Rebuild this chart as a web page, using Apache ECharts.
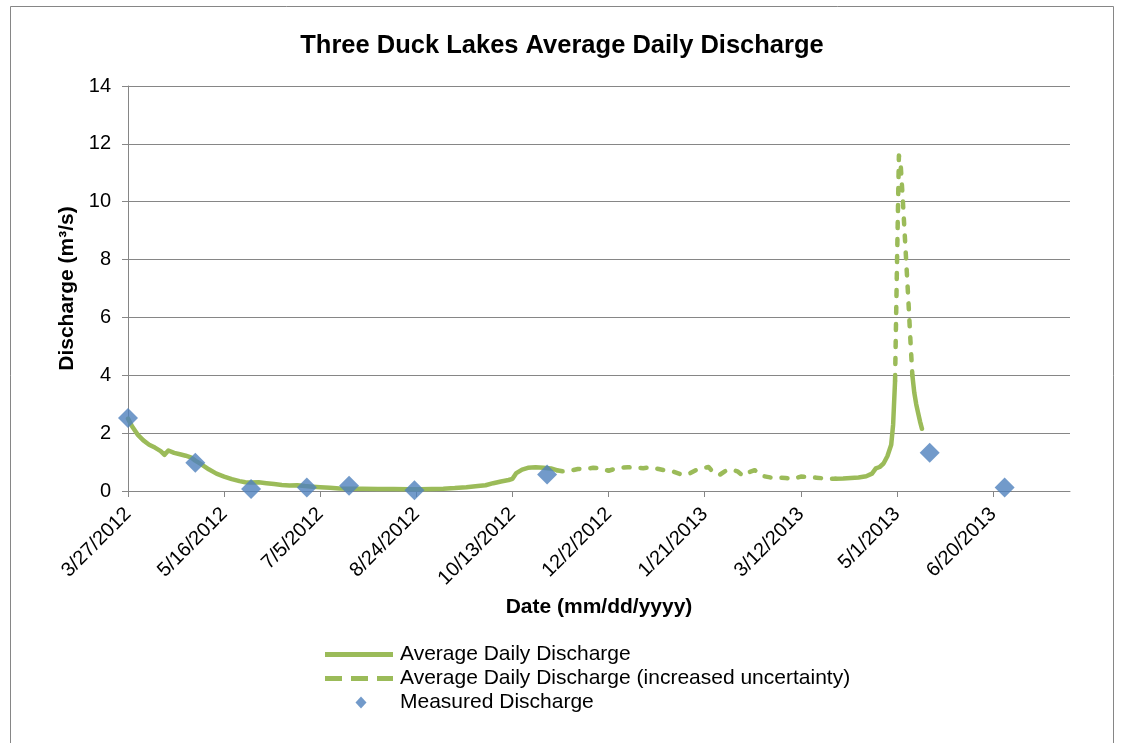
<!DOCTYPE html>
<html>
<head>
<meta charset="utf-8">
<script src="https://cdn.jsdelivr.net/npm/echarts@6/dist/echarts.min.js"></script>
<style>
html, body { margin: 0; padding: 0; background: #fff; }
#chart { width: 1124px; height: 743px; }
</style>
</head>
<body>
<div id="chart"></div>
<script>
// average daily discharge
var lineDates = [
    '3/27/2012', '3/29/2012', '4/1/2012', '4/4/2012', '4/7/2012', '4/10/2012', '4/13/2012', '4/15/2012',
    '4/17/2012', '4/20/2012', '4/23/2012', '4/26/2012', '4/29/2012', '5/1/2012', '5/4/2012', '5/8/2012',
    '5/12/2012', '5/16/2012', '5/20/2012', '5/24/2012', '5/27/2012', '5/30/2012', '6/3/2012', '6/7/2012',
    '6/11/2012', '6/15/2012', '6/19/2012', '6/23/2012', '6/27/2012', '7/1/2012', '7/5/2012', '7/10/2012',
    '7/15/2012', '7/21/2012', '7/27/2012', '8/4/2012', '8/12/2012', '8/20/2012', '8/26/2012', '9/1/2012',
    '9/7/2012', '9/13/2012', '9/19/2012', '9/25/2012', '9/29/2012', '10/3/2012', '10/7/2012', '10/11/2012',
    '10/13/2012', '10/15/2012', '10/18/2012', '10/21/2012', '10/25/2012', '10/29/2012', '11/2/2012', '11/5/2012',
    '11/8/2012', '11/12/2012', '11/16/2012', '11/20/2012', '11/24/2012', '11/28/2012', '12/2/2012', '12/5/2012',
    '12/8/2012', '12/12/2012', '12/16/2012', '12/20/2012', '12/24/2012', '12/28/2012', '1/1/2013', '1/5/2013',
    '1/9/2013', '1/13/2013', '1/17/2013', '1/21/2013', '1/23/2013', '1/26/2013', '1/29/2013', '2/1/2013',
    '2/4/2013', '2/7/2013', '2/10/2013', '2/13/2013', '2/16/2013', '2/20/2013', '2/24/2013', '2/28/2013',
    '3/4/2013', '3/8/2013', '3/12/2013', '3/16/2013', '3/20/2013', '3/25/2013', '3/30/2013', '4/3/2013',
    '4/7/2013', '4/11/2013', '4/15/2013', '4/18/2013', '4/20/2013', '4/22/2013', '4/24/2013', '4/26/2013',
    '4/28/2013', '4/29/2013', '4/30/2013', '5/1/2013', '5/2/2013', '5/3/2013', '5/4/2013', '5/5/2013',
    '5/6/2013', '5/7/2013', '5/8/2013', '5/9/2013', '5/10/2013', '5/11/2013', '5/12/2013', '5/13/2013',
    '5/14/2013'
];
var lineValues = [
    2.5, 2.25, 1.95, 1.75, 1.6, 1.5, 1.38, 1.25,
    1.4, 1.32, 1.27, 1.22, 1.15, 1.05, 0.93, 0.75,
    0.6, 0.5, 0.41, 0.34, 0.3, 0.29, 0.3, 0.27,
    0.24, 0.21, 0.19, 0.2, 0.17, 0.15, 0.13, 0.11,
    0.09, 0.08, 0.08, 0.07, 0.07, 0.06, 0.06, 0.07,
    0.08, 0.1, 0.13, 0.17, 0.2, 0.27, 0.33, 0.38,
    0.42, 0.62, 0.74, 0.8, 0.82, 0.8, 0.78, 0.72,
    0.68, 0.7, 0.76, 0.77, 0.8, 0.78, 0.7, 0.76,
    0.8, 0.82, 0.81, 0.79, 0.82, 0.76, 0.7, 0.66,
    0.57, 0.6, 0.74, 0.8, 0.83, 0.6, 0.57, 0.7,
    0.74, 0.68, 0.52, 0.65, 0.72, 0.52, 0.47, 0.46,
    0.45, 0.42, 0.5, 0.48, 0.46, 0.43, 0.42, 0.43,
    0.45, 0.47, 0.51, 0.6, 0.78, 0.83, 0.95, 1.2,
    1.6, 2.3, 3.8, 7.8, 11.6, 11.2, 10.1, 8.9,
    7.7, 6.5, 5.2, 4.0, 3.4, 3.0, 2.7, 2.4,
    2.15
];
// spans drawn dashed (increased uncertainty)
var uncertainPeriods = [['11/5/2012', '3/30/2013'], ['4/30/2013', '5/9/2013']];

var measuredDates = ['3/27/2012', '5/1/2012', '5/30/2012', '6/28/2012', '7/20/2012', '8/23/2012', '10/31/2012', '5/18/2013', '6/26/2013'];
var measuredValues = [2.52, 0.98, 0.07, 0.12, 0.18, 0.03, 0.57, 1.32, 0.12];

var tickDates = ['3/27/2012', '5/16/2012', '7/5/2012', '8/24/2012', '10/13/2012', '12/2/2012', '1/21/2013', '3/12/2013', '5/1/2013', '6/20/2013'];
var axisEndDate = '7/30/2013';

function toTime(s) {
    var p = s.split('/');
    return Date.UTC(+p[2], +p[0] - 1, +p[1]);
}
var t0 = toTime(tickDates[0]);
function dayOf(s) {
    return Math.round((toTime(s) - t0) / 86400000);
}

var tickDays = tickDates.map(dayOf);
var periods = uncertainPeriods.map(function(p) { return [dayOf(p[0]), dayOf(p[1])]; });

// split the line into solid and dashed pieces, sharing the boundary points
var solidData = [];
var dashedData = [];
lineDates.forEach(function(d, i) {
    var x = dayOf(d);
    var inside = false, onEdge = false;
    periods.forEach(function(p) {
        if (x > p[0] && x < p[1]) inside = true;
        if (x === p[0] || x === p[1]) onEdge = true;
    });
    solidData.push([x, inside ? null : lineValues[i]]);
    dashedData.push([x, (inside || onEdge) ? lineValues[i] : null]);
});
var measuredData = measuredDates.map(function(d, i) { return [dayOf(d), measuredValues[i]]; });

var font = 'Liberation Sans, Arial, sans-serif';
var grey = '#868686';
var green = '#9bbb59';
var blue = '#4f81bd';

// legend icons (the leading moves fix the box to 72x12 so nothing is stretched)
var iconSolid = 'path://M0,0 M72,12 M2,3.5 L70,3.5 L70,8.5 L2,8.5 Z';
var iconDashed = 'path://M0,0 M72,12 M2,3.5 L19,3.5 L19,8.5 L2,8.5 Z M28,3.5 L45,3.5 L45,8.5 L28,8.5 Z M54,3.5 L70,3.5 L70,8.5 L54,8.5 Z';
var iconDiamond = 'path://M0,0 M72,12 M38,0 L43.5,6 L38,12 L32.5,6 Z';

var chart = echarts.init(document.getElementById('chart'));
var option = {
    animation: false,
    backgroundColor: '#fff',
    textStyle: { fontFamily: font },
    graphic: [{
        type: 'rect',
        shape: { x: 10.5, y: 6.5, width: 1103, height: 800 },
        style: { fill: 'none', stroke: grey, lineWidth: 1 },
        silent: true
    }],
    title: {
        text: 'Three Duck Lakes Average Daily Discharge',
        left: 'center',
        top: 28,
        textStyle: { fontFamily: font, fontSize: 25.5, fontWeight: 'bold', color: '#000' }
    },
    legend: {
        orient: 'vertical',
        left: 318,
        top: 639,
        itemWidth: 72,
        itemHeight: 12,
        itemGap: 3,
        itemStyle: { borderWidth: 0 },
        textStyle: { fontFamily: font, fontSize: 21, color: '#000' },
        data: [
            { name: 'Average Daily Discharge', icon: iconSolid },
            { name: 'Average Daily Discharge (increased uncertainty)', icon: iconDashed },
            { name: 'Measured Discharge', icon: iconDiamond }
        ]
    },
    grid: { left: 128, right: 54, top: 86, bottom: 252 },
    xAxis: {
        type: 'value',
        min: 0,
        max: dayOf(axisEndDate),
        interval: 50,
        name: 'Date (mm/dd/yyyy)',
        nameLocation: 'middle',
        nameGap: 106,
        nameTextStyle: { fontFamily: font, fontSize: 21, fontWeight: 'bold', color: '#000' },
        axisLine: { lineStyle: { color: grey, width: 1 } },
        axisTick: { show: true, length: 6, customValues: tickDays, lineStyle: { color: grey } },
        axisLabel: {
            rotate: 45,
            margin: 20,
            fontSize: 20,
            color: '#000',
            customValues: tickDays,
            formatter: function(v) {
                var i = tickDays.indexOf(v);
                return i >= 0 ? tickDates[i] : '';
            }
        },
        splitLine: { show: false }
    },
    yAxis: {
        type: 'value',
        min: 0,
        max: 14,
        interval: 2,
        name: 'Discharge (m³/s)',
        nameLocation: 'middle',
        nameGap: 49,
        nameTextStyle: { fontFamily: font, fontSize: 21, fontWeight: 'bold', color: '#000' },
        axisLine: { show: true, lineStyle: { color: grey, width: 1 } },
        axisTick: { show: true, length: 6, lineStyle: { color: grey } },
        axisLabel: { fontSize: 20, color: '#000', margin: 17 },
        splitLine: { lineStyle: { color: grey, width: 1 } }
    },
    series: [{
        name: 'Average Daily Discharge',
        type: 'line',
        data: solidData,
        symbol: 'none',
        connectNulls: false,
        lineStyle: { color: green, width: 4.5, cap: 'round', join: 'round' },
        itemStyle: { color: green },
        z: 2
    }, {
        name: 'Average Daily Discharge (increased uncertainty)',
        type: 'line',
        data: dashedData,
        symbol: 'none',
        connectNulls: false,
        lineStyle: { color: green, width: 4.5, type: [6, 11], cap: 'round', join: 'round' },
        itemStyle: { color: green },
        z: 2
    }, {
        name: 'Measured Discharge',
        type: 'scatter',
        data: measuredData,
        symbol: 'diamond',
        symbolSize: 20,
        itemStyle: { color: blue },
        z: 3
    }]
};
chart.setOption(option);
</script>
</body>
</html>
